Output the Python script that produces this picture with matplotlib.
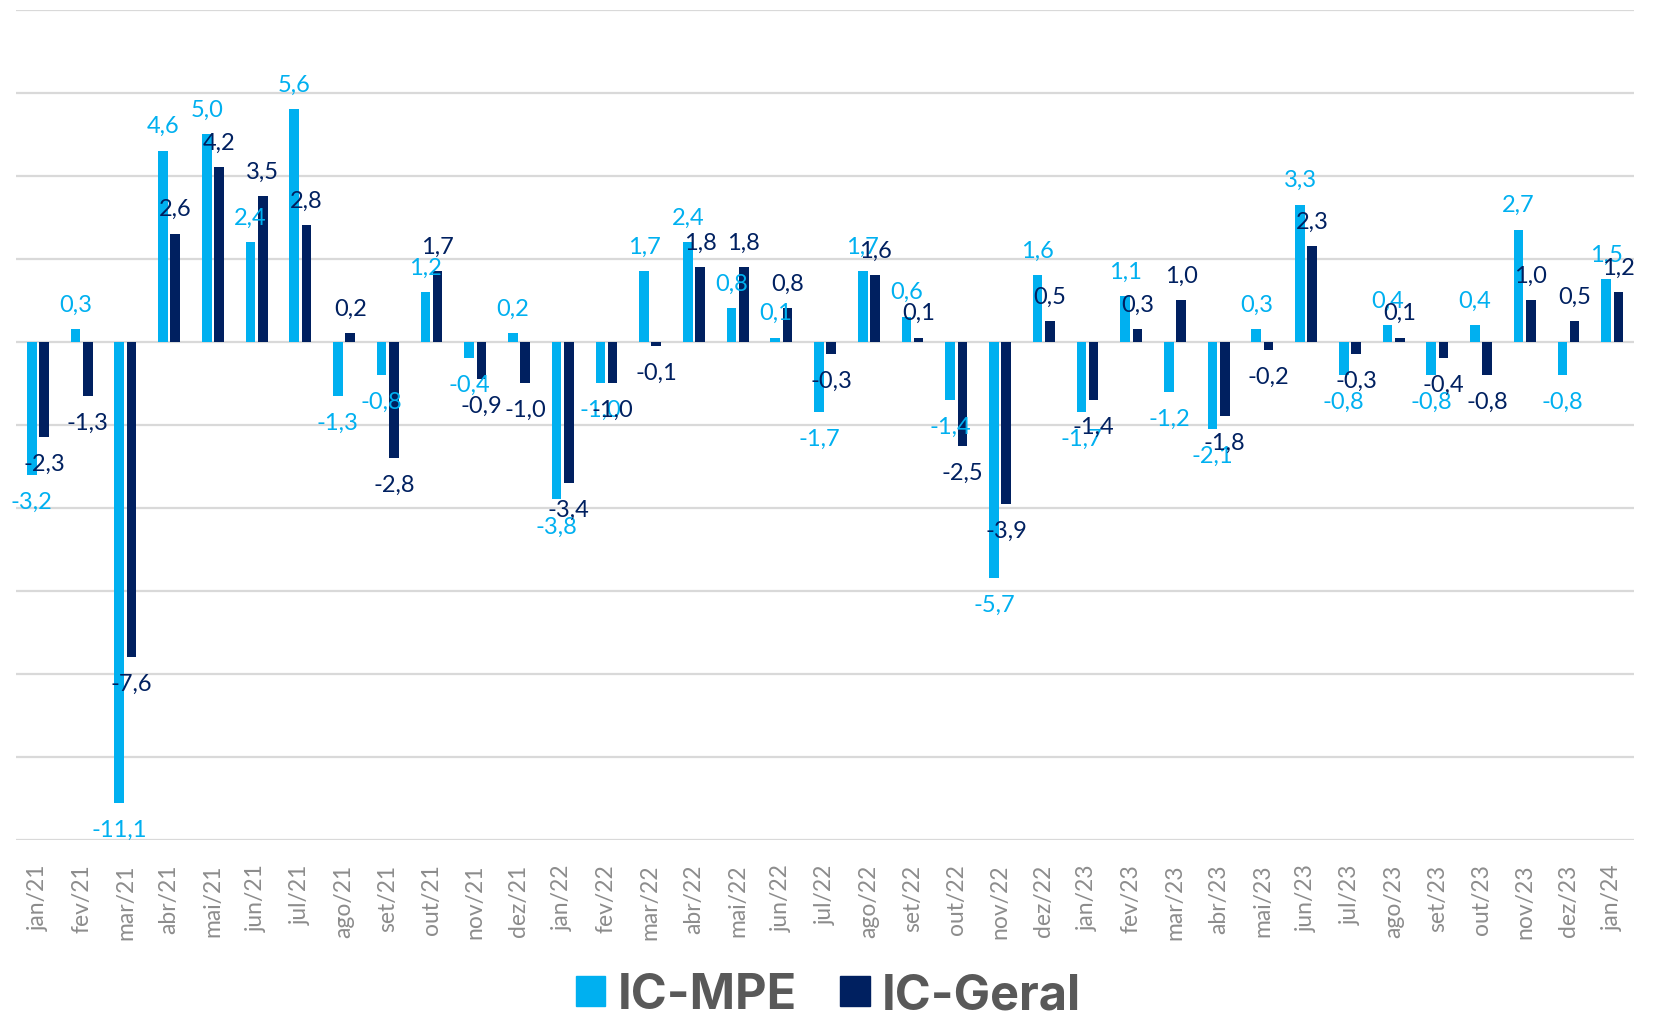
import numpy as np
import matplotlib.pyplot as plt
from matplotlib.patches import Patch

months = ['jan/21', 'fev/21', 'mar/21', 'abr/21', 'mai/21', 'jun/21', 'jul/21', 'ago/21',
          'set/21', 'out/21', 'nov/21', 'dez/21', 'jan/22', 'fev/22', 'mar/22', 'abr/22',
          'mai/22', 'jun/22', 'jul/22', 'ago/22', 'set/22', 'out/22', 'nov/22', 'dez/22',
          'jan/23', 'fev/23', 'mar/23', 'abr/23', 'mai/23', 'jun/23', 'jul/23', 'ago/23',
          'set/23', 'out/23', 'nov/23', 'dez/23', 'jan/24']
ic_mpe = [-3.2, 0.3, -11.1, 4.6, 5.0, 2.4, 5.6, -1.3, -0.8, 1.2, -0.4, 0.2, -3.8, -1.0,
          1.7, 2.4, 0.8, 0.1, -1.7, 1.7, 0.6, -1.4, -5.7, 1.6, -1.7, 1.1, -1.2, -2.1, 0.3,
          3.3, -0.8, 0.4, -0.8, 0.4, 2.7, -0.8, 1.5]
ic_geral = [-2.3, -1.3, -7.6, 2.6, 4.2, 3.5, 2.8, 0.2, -2.8, 1.7, -0.9, -1.0, -3.4, -1.0,
            -0.1, 1.8, 1.8, 0.8, -0.3, 1.6, 0.1, -2.5, -3.9, 0.5, -1.4, 0.3, 1.0, -1.8, -0.2,
            2.3, -0.3, 0.1, -0.4, -0.8, 1.0, 0.5, 1.2]
series_names = ['IC-MPE', 'IC-Geral']

c_mpe = '#00B0F0'
c_geral = '#002060'

fig = plt.figure(figsize=(16.57, 10.20), dpi=100)
ax = fig.add_axes([0.0097, 0.1755, 0.9765, 0.8142])

x = np.arange(len(months))
w = 0.22
off = 0.14
ax.bar(x - off, ic_mpe, w, color=c_mpe, zorder=3)
ax.bar(x + off, ic_geral, w, color=c_geral, zorder=3)

def fmt(v):
    return f'{v:.1f}'.replace('.', ',')

# rotulos de dados (fora da ponta da barra)
for xi, v in zip(x, ic_mpe):
    ax.annotate(fmt(v), (xi - off, v), xytext=(0, 18 if v >= 0 else -19), textcoords='offset points',
                ha='center', va='center', color=c_mpe,
                fontsize=17, family='Lato', zorder=4)
for xi, v in zip(x, ic_geral):
    ax.annotate(fmt(v), (xi + off, v), xytext=(0, 18 if v >= 0 else -19), textcoords='offset points',
                ha='center', va='center', color=c_geral,
                fontsize=17, family='Lato', zorder=4)

ax.set_xlim(-0.5, len(months) - 0.5)
ax.set_ylim(-12, 8)
ax.set_yticks(np.arange(-12, 9, 2))
ax.yaxis.grid(True, color='#D9D9D9', linewidth=1.6, zorder=0)
ax.tick_params(axis='y', left=False, labelleft=False)
ax.set_xticks(x)
ax.set_xticklabels(months, rotation=90, fontsize=16.5, family='Lato', color='#8C8C8C')
ax.tick_params(axis='x', length=0, pad=17)
for s in ax.spines.values():
    s.set_visible(False)

handles = [Patch(color=c_mpe), Patch(color=c_geral)]
fig.legend(handles, series_names, loc='lower center', bbox_to_anchor=(0.5, -0.042), ncol=2,
           frameon=False, prop=dict(family='Inter', weight='bold', size=35),
           labelcolor='#595959', handlelength=0.6, handleheight=0.6, handletextpad=0.25,
           columnspacing=0.9)

fig.savefig('out.png', dpi=100)
